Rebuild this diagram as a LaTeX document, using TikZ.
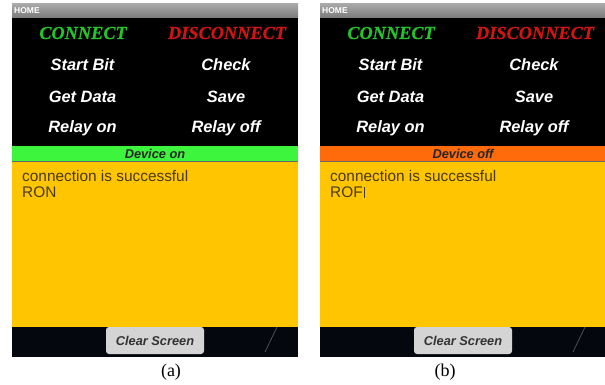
\documentclass[tikz,border=0pt]{standalone}
\usepackage{fontspec}
\setmainfont{Liberation Serif}
\setsansfont{Liberation Sans}
\newfontface\connface{Liberation Serif Bold Italic}[FakeBold=0.6]
\definecolor{homeA}{HTML}{A8A8A8}
\definecolor{homeB}{HTML}{7A7A7A}
\definecolor{conngreen}{HTML}{22C42A}
\definecolor{discred}{HTML}{D01414}
\definecolor{barGreen}{HTML}{3CF53C}
\definecolor{barOrange}{HTML}{FF6A0A}
\definecolor{panelYellow}{HTML}{FFC600}
\definecolor{darktext}{HTML}{4A3A14}
\definecolor{btngray}{HTML}{D4D4D4}
\definecolor{btntext}{HTML}{333333}
\definecolor{lowblack}{HTML}{04070E}
\tikzset{
  conn/.style={inner sep=0pt, font=\connface\fontsize{18.3}{18}\selectfont},
  btn/.style={inner sep=0pt, text=white, font=\sffamily\bfseries\itshape\fontsize{16.4}{16}\selectfont},
  stat/.style={inner sep=0pt, text=black!85, font=\sffamily\bfseries\itshape\fontsize{12.8}{13}\selectfont},
  logtxt/.style={inner sep=0pt, anchor=base west, text=darktext, font=\sffamily\fontsize{15.4}{15}\selectfont},
  homelbl/.style={inner sep=0pt, anchor=west, text=white, font=\sffamily\bfseries\fontsize{8.5}{9}\selectfont},
  clearbtn/.style={fill=btngray, rounded corners=3pt, minimum width=98pt, minimum height=27pt,
     inner sep=0pt, text=btntext, font=\sffamily\bfseries\itshape\fontsize{12.8}{13}\selectfont},
  caplbl/.style={inner sep=0pt, font=\rmfamily\fontsize{18}{18}\selectfont}
}
\newcommand\phonescreen[5]{%
  \begin{scope}[shift={(#2,0)}]
    \shade[top color=homeA, bottom color=homeB] (0,4) rectangle (286,18);
    \node[homelbl] (#1home) at (2,11) {HOME};
    \fill[black] (0,18) rectangle (286,146);
    \node[conn, text=conngreen] (#1conn) at (71,33) {CONNECT};
    \node[conn, text=discred] (#1disc) at (215,33) {DISCONNECT};
    \node[btn] (#1start) at (70.5,65) {Start Bit};
    \node[btn] (#1check) at (214,65) {Check};
    \node[btn] (#1get) at (70.5,97) {Get Data};
    \node[btn] (#1save) at (214,97) {Save};
    \node[btn] (#1ron) at (70.5,128) {Relay on};
    \node[btn] (#1roff) at (214,128) {Relay off};
    \fill[#3] (0,146) rectangle (286,162);
    \draw[black!60, line width=0.6pt] (0,161.7) -- (286,161.7);
    \node[stat] (#1status) at (143,154) {#4};
    \fill[panelYellow] (0,162) rectangle (286,327);
    \node[logtxt] (#1l1) at (10,182) {connection is successful};
    \node[logtxt] (#1l2) at (10,197.5) {#5};
    \fill[lowblack] (0,327) rectangle (286,357);
    \draw[gray!70, opacity=0.5, line width=0.7pt] (265,327) -- (253,352);
    \node[clearbtn] (#1clear) at (143,340.5) {Clear Screen};
  \end{scope}}
\begin{document}
\begin{tikzpicture}[x=1pt, y=-1pt]
  \useasboundingbox (0,0) rectangle (605,385);
  \fill[white] (0,0) rectangle (605,385);
  \phonescreen{a}{12}{barGreen}{Device on}{RON}
  \phonescreen{b}{320}{barOrange}{Device off}{ROF}
  \draw[darktext, line width=0.8pt] ([xshift=1pt]bl2.base east) -- ++(0,-11);
  \node[caplbl] (capa) at (171,372) {(a)};
  \node[caplbl] (capb) at (445,372) {(b)};
\end{tikzpicture}
\end{document}
